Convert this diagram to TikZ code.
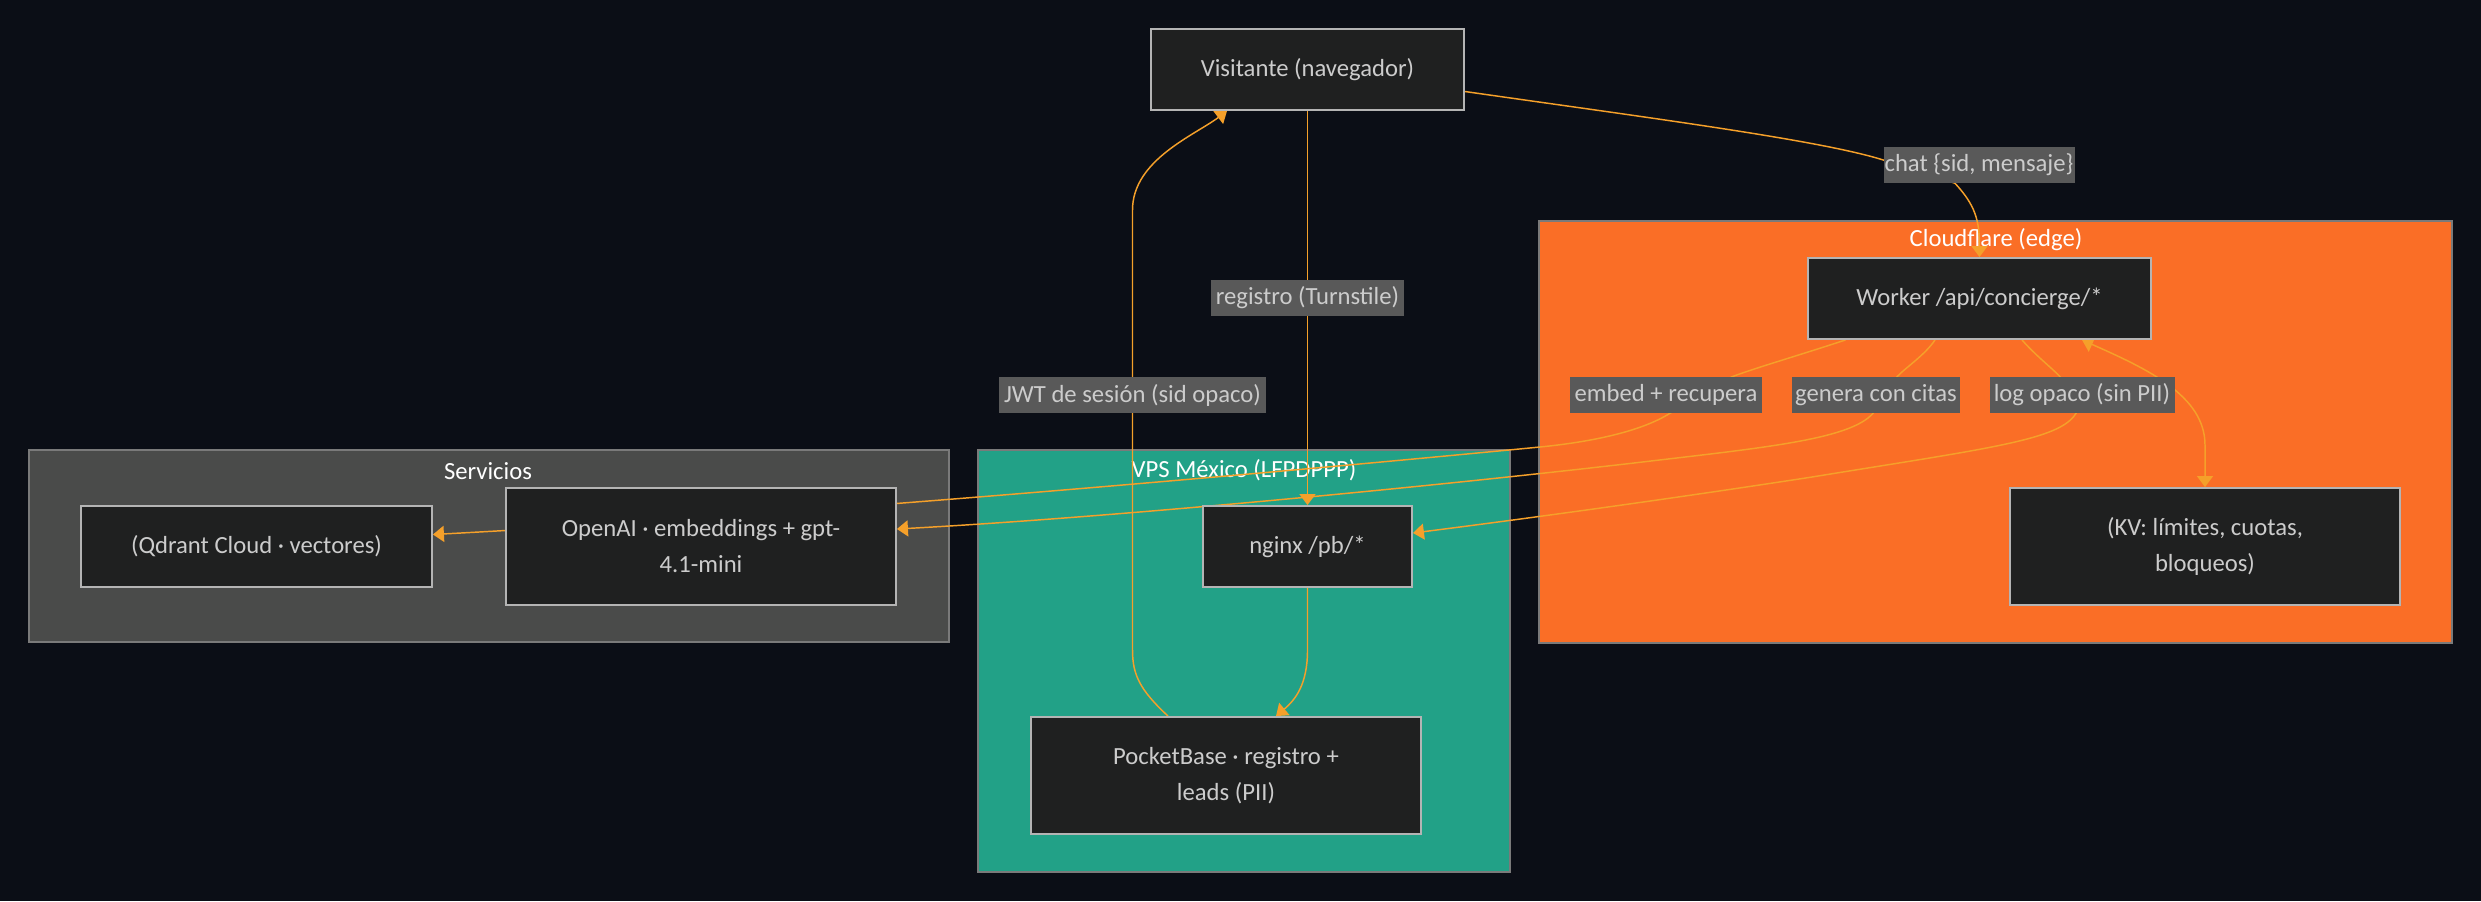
\documentclass[tikz,border=0pt]{standalone}
\usepackage{fontspec}
\setmainfont{Carlito}
\usetikzlibrary{arrows.meta,calc}

\definecolor{bgdark}{HTML}{0B0E16}
\definecolor{boxfill}{HTML}{1F2020}
\definecolor{boxline}{HTML}{B4B4B4}
\definecolor{boxtext}{HTML}{CCCCCC}
\definecolor{flowc}{HTML}{F5A02A}
\definecolor{lblfill}{HTML}{595959}
\definecolor{cforange}{HTML}{FA6E26}
\definecolor{vpsteal}{HTML}{22A187}
\definecolor{svcgray}{HTML}{4A4B4A}
\definecolor{clusline}{HTML}{7A7A7A}

\pgfdeclarelayer{background}
\pgfdeclarelayer{edges}
\pgfsetlayers{background,edges,main}

\newcommand{\pxu}{0.75pt}

\begin{document}
\begin{tikzpicture}[x=0.75pt, y=-0.75pt,
	txt/.style={font=\fontsize{18.5}{27}\selectfont},
	box/.style={txt, shape=rectangle, draw=boxline, fill=boxfill, text=boxtext, line width=1.4pt, inner sep=0pt, align=center},
	lbl/.style={txt, fill=lblfill, text=boxtext, inner sep=0pt, minimum height=36*\pxu},
	cluster/.style={draw=clusline, line width=0.8pt},
	clustertitle/.style={txt, text=white},
	flow/.style={draw=flowc, line width=1.1pt, -{Triangle[length=8.25pt,width=12pt]}}]
	\useasboundingbox (0,0) rectangle (2481,901);

	\node[box, minimum width=313*\pxu, minimum height=81*\pxu] (visitante) at (1307.5,69.5) {Visitante (navegador)};
	\node[box, minimum width=343*\pxu, minimum height=81*\pxu] (worker) at (1979.5,298.5) {Worker /api/concierge/*};
	\node[box, minimum width=390*\pxu, minimum height=117*\pxu] (kv) at (2205,546.5) {(KV: límites, cuotas,\\bloqueos)};
	\node[box, minimum width=351*\pxu, minimum height=81*\pxu] (qdrant) at (256.5,546.5) {(Qdrant Cloud · vectores)};
	\node[box, minimum width=390*\pxu, minimum height=117*\pxu] (openai) at (701,546.5) {OpenAI · embeddings + gpt-\\4.1-mini};
	\node[box, minimum width=209*\pxu, minimum height=81*\pxu] (nginx) at (1307.5,546.5) {nginx /pb/*};
	\node[box, minimum width=390*\pxu, minimum height=117*\pxu] (pocketbase) at (1226,775.5) {PocketBase · registro +\\leads (PII)};

	\node[lbl, minimum width=191*\pxu] (chat) at (1979,165) {chat \{sid, mensaje\}};
	\node[lbl, minimum width=193*\pxu] (registro) at (1307.5,298) {registro (Turnstile)};
	\node[lbl, minimum width=267*\pxu] (jwt) at (1132.5,395) {JWT de sesión (sid opaco)};
	\node[lbl, minimum width=192*\pxu] (embed) at (1666,395) {embed + recupera};
	\node[lbl, minimum width=168*\pxu] (genera) at (1876,395) {genera con citas};
	\node[lbl, minimum width=185*\pxu] (logop) at (2082,395) {log opaco (sin PII)};

	\begin{pgfonlayer}{background}
		\fill[bgdark] (0,0) rectangle (2481,901);
		\filldraw[cluster, fill=cforange] (1539,221) rectangle (2452,643);
		\filldraw[cluster, fill=svcgray] (29,450) rectangle (949,642);
		\filldraw[cluster, fill=vpsteal] (978,450) rectangle (1510,872);
		\node[clustertitle] (cftitle) at (1996,240) {Cloudflare (edge)};
		\node[clustertitle] (svctitle) at (488,471) {Servicios};
		\node[clustertitle] (vpstitle) at (1244,470) {VPS México (LFPDPPP)};
	\end{pgfonlayer}

	\begin{pgfonlayer}{edges}
		\draw[flow] ($(visitante.east)+(0,22)$) .. controls (1650,118) and (1820,140) .. ($(chat.west)+(0,-5)$) -- ($(chat.south)+(-24,0)$) .. controls (1975,205) and (1979.5,220) .. (worker.north);
		\draw[flow] (visitante.south) -- (registro) -- (nginx.north);
		\draw[flow] ($(pocketbase.north)+(-58,0)$) .. controls (1140,690) and (1132.5,675) .. (1132.5,650) -- (jwt.south) -- (jwt.north) -- (1132.5,210) .. controls (1132.5,160) and (1195,135) .. ($(visitante.south)+(-80.5,0)$);
		\draw[flow] ($(worker.south)+(-134,0)$) .. controls (1800,355) and (1755,368) .. ($(embed.north)+(66,0)$) -- ($(embed.south)+(4,0)$) .. controls (1640,432) and (1590,442) .. (1540,447) .. controls (1250,475) and (800,515) .. ($(qdrant.east)+(0,-12)$);
		\draw[flow] ($(worker.south)+(-44.5,0)$) .. controls (1925,355) and (1905,368) .. ($(genera.north)+(21,0)$) -- ($(genera.south)+(-3,0)$) .. controls (1850,440) and (1760,448) .. (1634,463) .. controls (1400,490) and (1100,518) .. ($(openai.east)+(0,-17.5)$);
		\draw[flow] ($(worker.south)+(42.5,0)$) .. controls (2035,355) and (2052,368) .. ($(logop.north)+(-22,0)$) -- ($(logop.south)+(-6,0)$) .. controls (2060,440) and (1990,448) .. (1812,477) .. controls (1650,502) and (1500,522) .. ($(nginx.east)+(0,-13.5)$);
		\draw[flow, {Triangle[length=8.25pt,width=12pt]}-{Triangle[length=8.25pt,width=12pt]}] ($(worker.south)+(102.5,0)$) .. controls (2145,368) and (2205,395) .. (2205,445) -- (kv.north);
		\draw[flow] (nginx.south) -- (1307.5,650) .. controls (1307.5,685) and (1295,700) .. ($(pocketbase.north)+(50,0)$);
	\end{pgfonlayer}
\end{tikzpicture}
\end{document}
